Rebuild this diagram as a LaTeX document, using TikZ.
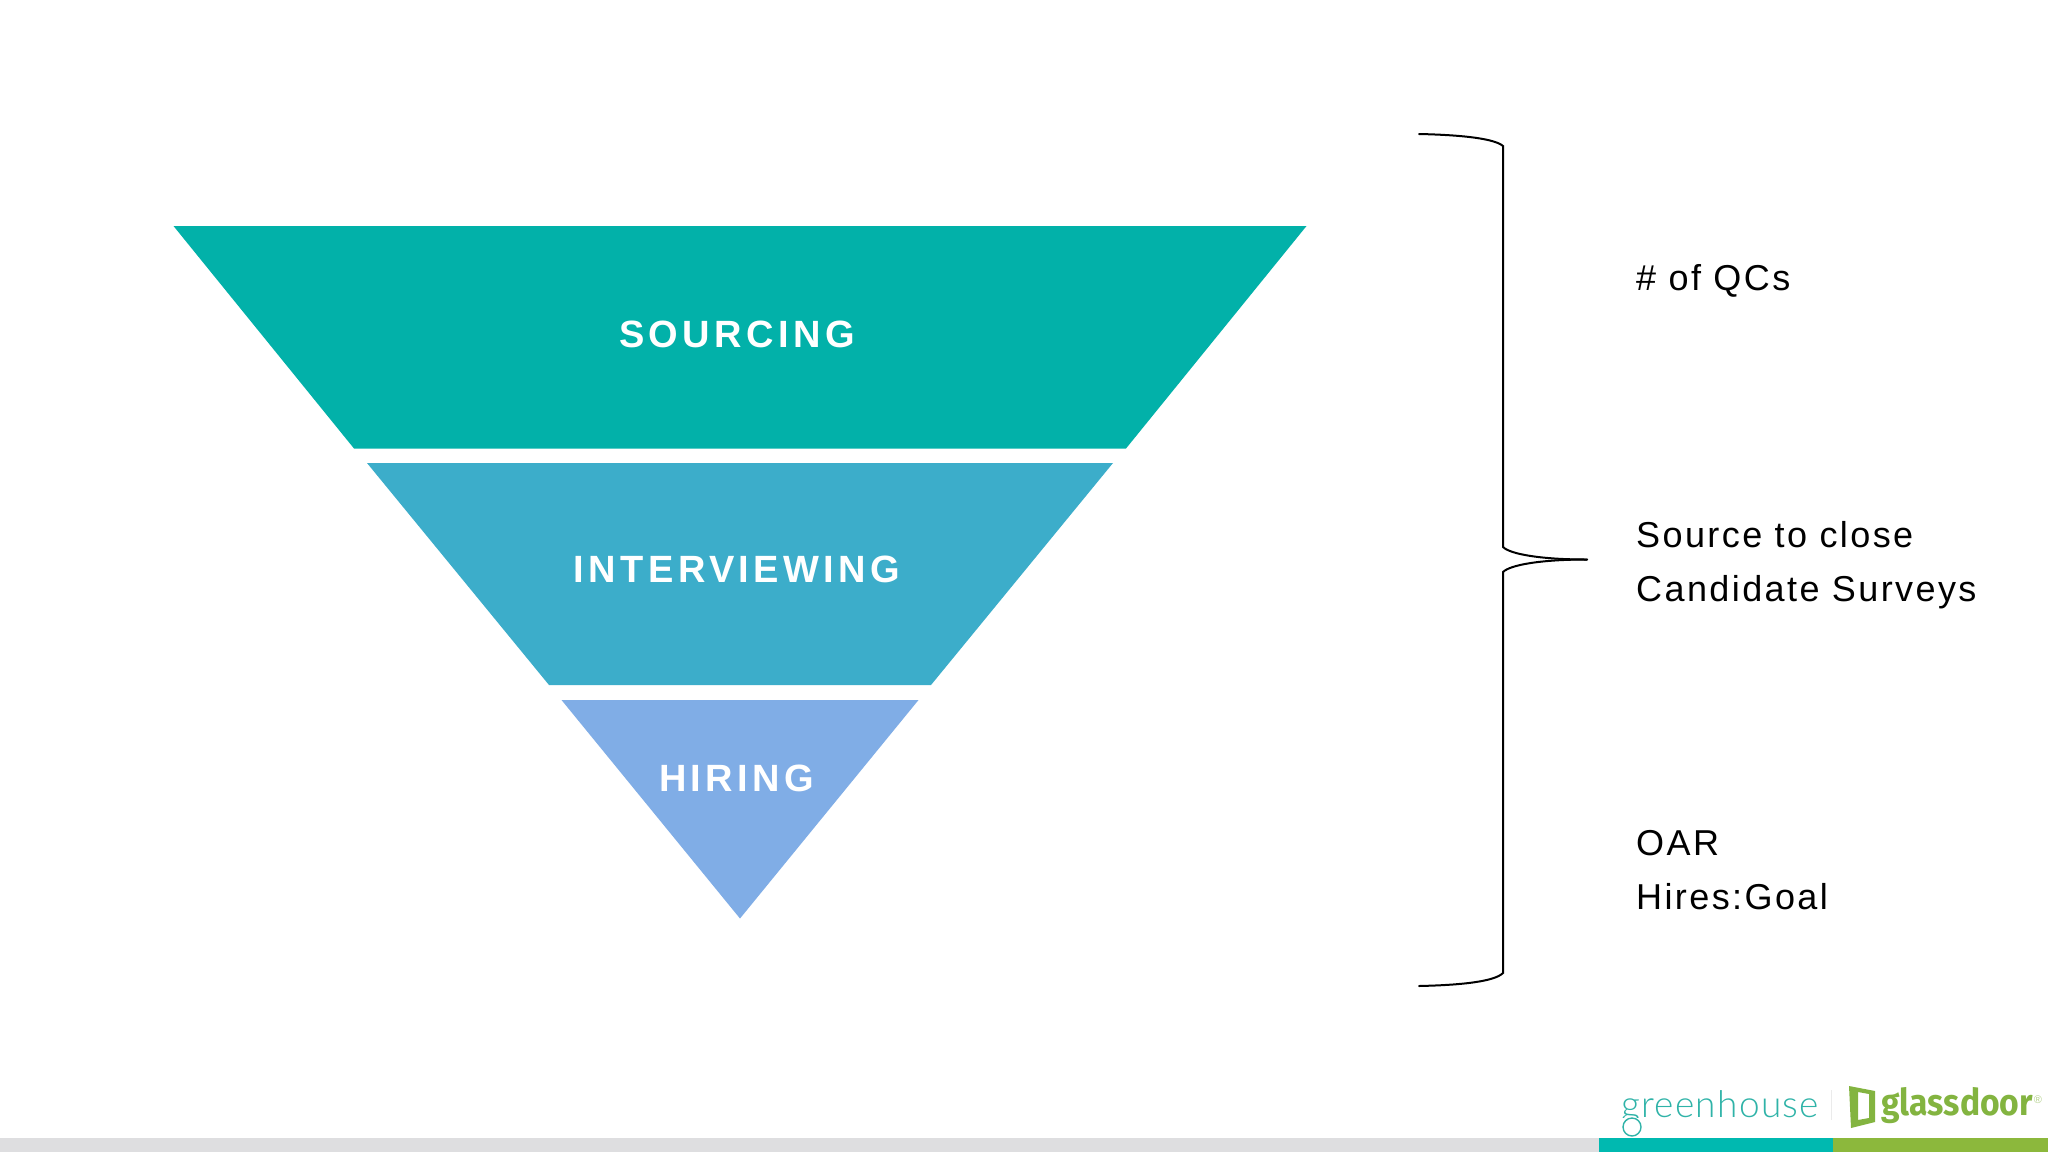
\documentclass[tikz,border=0pt]{standalone}
\usepackage{fontspec}
\setmainfont{Liberation Sans}
\newfontfamily\bandfont[LetterSpace=11.5,Ligatures=NoCommon]{Liberation Sans Bold}
\newfontfamily\notefont[LetterSpace=6.7,Ligatures=NoCommon]{Liberation Sans}
\newfontfamily\ghfont[LetterSpace=3.5]{Lato Light}
\newfontfamily\gdfont[FakeStretch=0.91]{Fira Sans Bold}
\definecolor{bandA}{HTML}{02B1A9}
\definecolor{bandB}{HTML}{3CADCA}
\definecolor{bandC}{HTML}{80ADE6}
\definecolor{barGray}{HTML}{DEDEE0}
\definecolor{barTeal}{HTML}{00B9B0}
\definecolor{barGreen}{HTML}{8CB83C}
\definecolor{ghTeal}{HTML}{2FB3A8}
\definecolor{gdGreen}{HTML}{83B440}
\tikzset{
  x=1pt,y=-1pt,
  bandlabel/.style={text=white,font=\bandfont\fontsize{38}{38}\selectfont,anchor=center,inner sep=0pt},
  note/.style={text=black,font=\notefont\fontsize{36}{36}\selectfont,anchor=base west,inner sep=0pt},
  bracket/.style={draw=black,line width=2pt,line cap=round},
}
\begin{document}
\begin{tikzpicture}
\useasboundingbox (0,0) rectangle (2048,1152);
\fill[white] (0,0) rectangle (2048,1152);
% funnel
\fill[bandA] (173.5,226) -- (1306.5,226) -- (1126,448.5) -- (354,448.5) -- cycle;
\fill[bandB] (367,463) -- (1113,463) -- (931,685) -- (549,685) -- cycle;
\fill[bandC] (561.5,700) -- (918.5,700) -- (740,918.5) -- cycle;
\node[bandlabel] (sourcing) at (737,334) {SOURCING};
\node[bandlabel] (interviewing) at (737,569) {INTERVIEWING};
\node[bandlabel] (hiring) at (736.5,778) {HIRING};
% brace
\coordinate (braceTop) at (1419,134);
\coordinate (braceBot) at (1419,986);
\coordinate (braceTip) at (1587,559.5);
\draw[bracket] (braceTop) .. controls (1465,135) and (1495,139) .. (1503,146)
  -- (1503,547) .. controls (1510,554) and (1540,559.5) .. (braceTip);
\draw[bracket] (braceBot) .. controls (1465,985) and (1495,981) .. (1503,973)
  -- (1503,572) .. controls (1510,565) and (1540,559.5) .. (braceTip);
% notes
\node[note] (qcs) at (1636,290) {\# of QCs};
\node[note] (stc) at (1636,547) {Source to close};
\node[note] (cs) at (1636,601) {Candidate Surveys};
\node[note] (oar) at (1636,855) {OAR};
\node[note] (hg) at (1636,909) {Hires:Goal};
% footer bars
\fill[barGray] (0,1138) rectangle (1599,1152);
\fill[barTeal] (1599,1138) rectangle (1833,1152);
\fill[barGreen] (1833,1138) rectangle (2048,1152);
% greenhouse logo
\node[anchor=base west,inner sep=0pt,text=ghTeal,font=\ghfont\fontsize{37}{37}\selectfont] (gh) at (1621,1117) {greenhouse};
\fill[white] (1618,1118) rectangle (1650,1137);
\draw[ghTeal,line width=1.4pt] (1632,1127) circle (9);
\draw[black!8,line width=1pt] (1831,1090) -- (1831,1120);
% glassdoor logo
\fill[gdGreen,even odd rule] (1849,1086) -- (1875,1091) -- (1875,1122) -- (1851,1128) -- cycle
  (1858,1092) -- (1869,1094) -- (1869,1118) -- (1858,1120) -- cycle;
\node[anchor=base west,inner sep=0pt,text=gdGreen,font=\gdfont\fontsize{37}{37}\selectfont] (gd) at (1881,1115) {glassdoor};
\node[anchor=center,inner sep=0pt,text=gdGreen!60,font=\fontsize{11}{11}\selectfont] (reg) at (2038,1100) {®};
\end{tikzpicture}
\end{document}
